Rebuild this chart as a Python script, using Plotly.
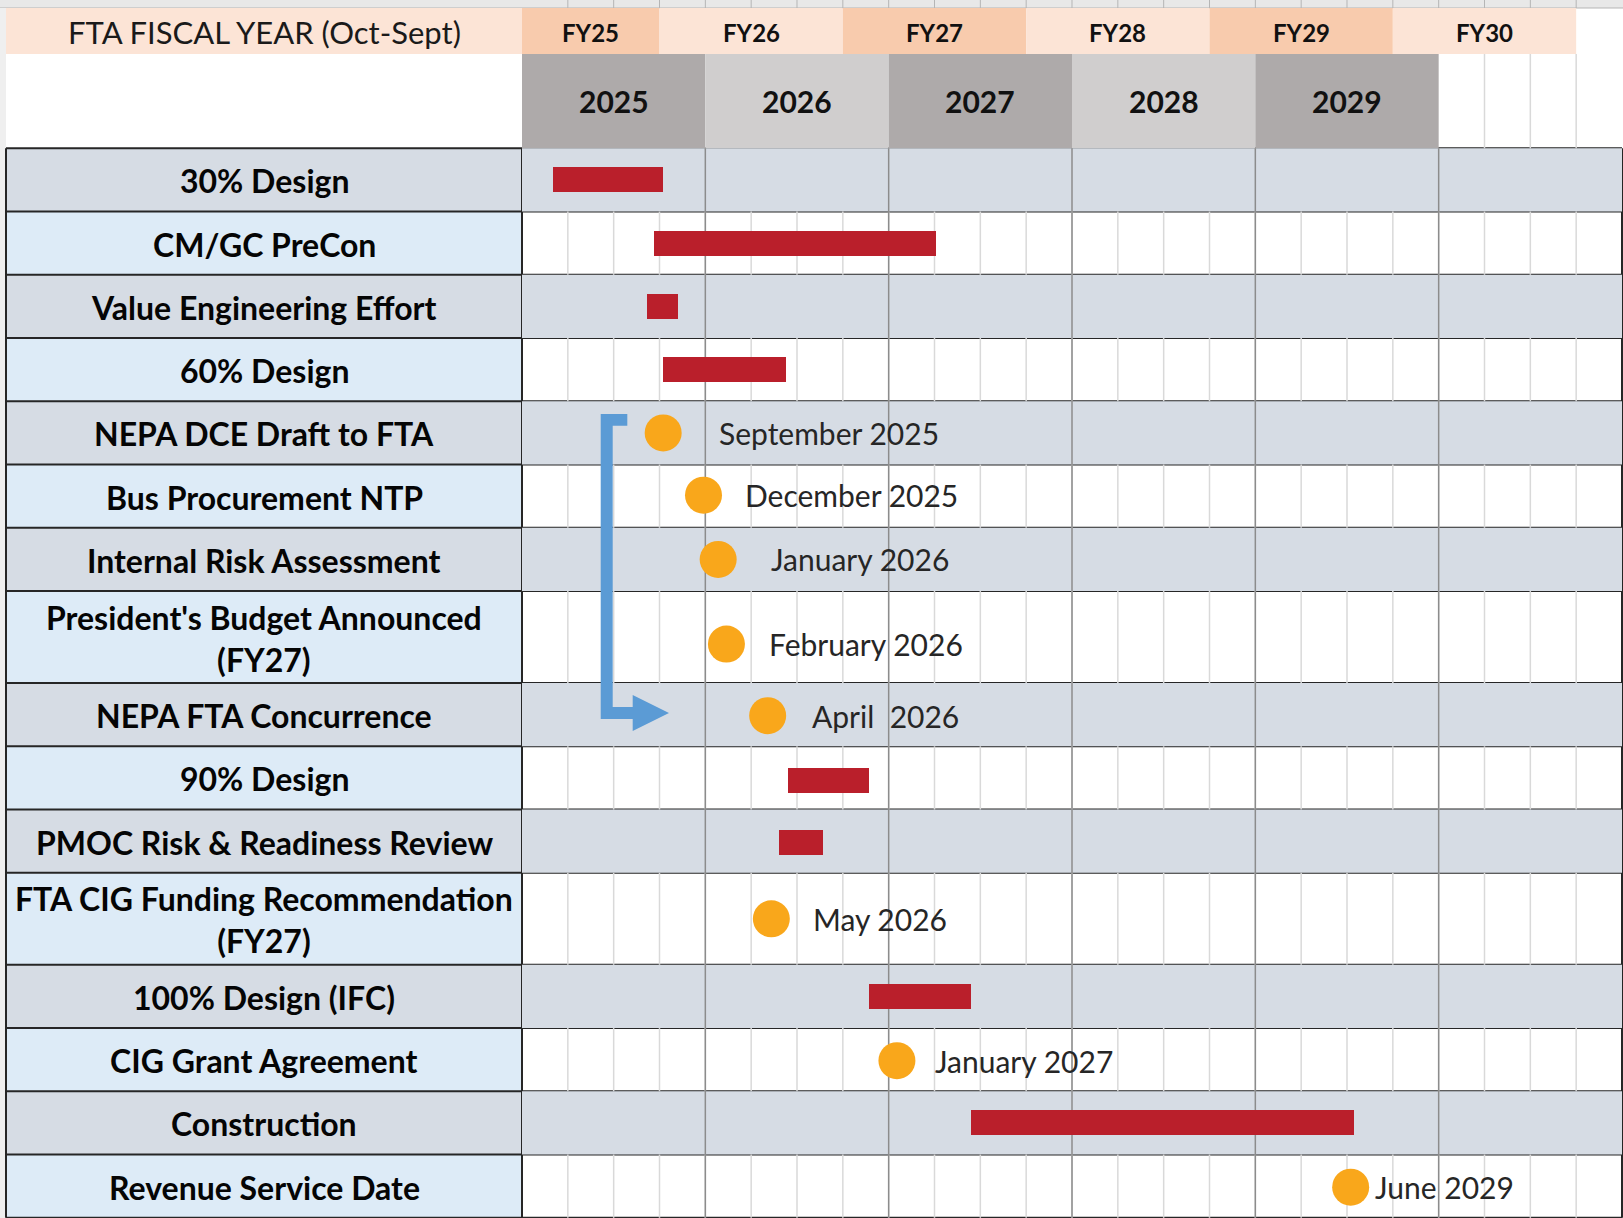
import plotly.graph_objects as go

# ---------------- data ----------------
row_labels = ["30% Design", "CM/GC PreCon", "Value Engineering Effort", "60% Design",
              "NEPA DCE Draft to FTA", "Bus Procurement NTP", "Internal Risk Assessment",
              "President's Budget Announced<br>(FY27)", "NEPA FTA Concurrence", "90% Design",
              "PMOC Risk & Readiness Review", "FTA CIG Funding Recommendation<br>(FY27)",
              "100% Design (IFC)", "CIG Grant Agreement", "Construction", "Revenue Service Date"]

bar_tasks = ["30% Design", "CM/GC PreCon", "Value Engineering Effort", "60% Design",
             "90% Design", "PMOC Risk & Readiness Review", "100% Design (IFC)", "Construction"]
bar_start = [2025.17, 2025.72, 2025.68, 2025.77, 2026.45, 2026.40, 2026.89, 2027.45]
bar_end = [2025.77, 2027.26, 2025.85, 2026.44, 2026.89, 2026.64, 2027.45, 2029.54]

ms_tasks = ["NEPA DCE Draft to FTA", "Bus Procurement NTP", "Internal Risk Assessment",
            "President's Budget Announced<br>(FY27)", "NEPA FTA Concurrence",
            "FTA CIG Funding Recommendation<br>(FY27)", "CIG Grant Agreement", "Revenue Service Date"]
ms_date = [2025.77, 2025.99, 2026.07, 2026.115, 2026.34, 2026.36, 2027.045, 2029.52]
ms_text = ["September 2025", "December 2025", "January 2026", "February 2026",
           "April\u00a0 2026", "May 2026", "January 2027", "June 2029"]

fy_labels = ["FY25", "FY26", "FY27", "FY28", "FY29", "FY30"]
fy_years = [2025, 2026, 2027, 2028, 2029, 2030]
cal_years = [2025, 2026, 2027, 2028, 2029]

# ---------------- layout constants ----------------
W, H = 1623, 1218
X_LEFT, X_SPLIT, X_RIGHT = 6, 522, 1622
X0, X1 = 2025, 2031
Y_STRIP, Y_FY, Y_HEAD = 8, 54, 148.3
ROW_H, TALL_H = 63.25, 92.0
ms_label_shift = [56, 41, 53, 43, 44, 42, 38, 24]
ms_row_offset = [0, -1, 0, 7, 1, 0, 1, 1]
bar_row_offset = [0, 0, 0, 0, 3, 1, 0, 0]

BAR_C = "#BA1F2B"
DOT_C = "#F9A71B"
ARROW_C = "#5B9BD5"
ODD_FILL = "#D6DCE4"
EVEN_LABEL = "#DDEBF7"
LINE_DARK = "#262626"
FONT = "Lato"

# row positions
bounds = [Y_HEAD]
for lab in row_labels:
    bounds.append(bounds[-1] + (TALL_H if "<br>" in lab else ROW_H))
centers = {lab: (bounds[i] + bounds[i + 1]) / 2 for i, lab in enumerate(row_labels)}

def px(xp):
    return xp / W

shapes = []
annotations = []

def rect(x0, x1, y0, y1, fill, xref="x"):
    shapes.append(dict(type="rect", xref=xref, yref="y", x0=x0, x1=x1, y0=y0, y1=y1,
                       fillcolor=fill, line=dict(width=0), layer="below"))

def line(x0, x1, y0, y1, color, width, xref="x"):
    shapes.append(dict(type="line", xref=xref, yref="y", x0=x0, x1=x1, y0=y0, y1=y1,
                       line=dict(color=color, width=width), layer="below"))

quarters = [X0 + q / 4 for q in range(1, 24)]

# top strip (spreadsheet row above) and left margin
rect(0, 1, 0, Y_STRIP, "#E8E8E8", xref="paper")
for q in quarters:
    line(q, q, 0, Y_STRIP, "#B5B5B5", 1)
line(0, 1, Y_STRIP, Y_STRIP, "#B5B5B5", 1, xref="paper")
rect(0, px(X_LEFT), Y_STRIP, H, "#EFEFEF", xref="paper")

# fiscal-year header row
rect(px(X_LEFT), px(X_SPLIT), Y_STRIP, Y_FY, "#FCE4D6", xref="paper")
for i, (lab, fy) in enumerate(zip(fy_labels, fy_years)):
    s = max(X0, fy - 1 + 0.75)
    e = fy + 0.75
    rect(s, e, Y_STRIP, Y_FY, "#F8CBAD" if i % 2 == 0 else "#FCE4D6")
    annotations.append(dict(x=(s + e) / 2, y=(Y_STRIP + Y_FY) / 2 + 1, xref="x", yref="y",
                            text="<b>%s</b>" % lab, showarrow=False, xanchor="center",
                            font=dict(family=FONT, size=24, color="#111111")))
annotations.append(dict(x=px((X_LEFT + X_SPLIT) / 2), y=(Y_STRIP + Y_FY) / 2 + 1,
                        xref="paper", yref="y", text="FTA FISCAL YEAR (Oct-Sept)",
                        showarrow=False, xanchor="center",
                        font=dict(family=FONT, size=31, color="#1A1A1A")))

# calendar-year header row
rect(px(X_LEFT), px(X_SPLIT), Y_FY, Y_HEAD, "white", xref="paper")
for q in quarters:
    if q > cal_years[-1] + 1:
        line(q, q, Y_FY, Y_HEAD, "#D9D9D9", 1.5)
for i, yr in enumerate(cal_years):
    rect(yr, yr + 1, Y_FY, Y_HEAD, "#AEAAAA" if i % 2 == 0 else "#D0CECE")
    annotations.append(dict(x=yr + 0.5, y=(Y_FY + Y_HEAD) / 2, xref="x", yref="y",
                            text="<b>%d</b>" % yr, showarrow=False, xanchor="center",
                            font=dict(family=FONT, size=30, color="#111111")))

# task rows
for i, lab in enumerate(row_labels):
    y0, y1 = bounds[i], bounds[i + 1]
    odd = i % 2 == 0
    rect(px(X_LEFT), px(X_SPLIT), y0, y1, ODD_FILL if odd else EVEN_LABEL, xref="paper")
    if odd:
        rect(X0, X1, y0, y1, ODD_FILL)
    else:
        for q in quarters:
            line(q, q, y0, y1, "#D9D9D9", 1.5)
    annotations.append(dict(x=px((X_LEFT + X_SPLIT) / 2), y=(y0 + y1) / 2 + 1,
                            xref="paper", yref="y", text="<b>%s</b>" % lab,
                            showarrow=False, xanchor="center", align="center",
                            font=dict(family=FONT, size=32, color="#050505")))

# year separators
for yr in range(X0 + 1, X1):
    line(yr, yr, Y_HEAD, bounds[-1], "#8C8C8C", 1.5)

# borders
for b in bounds:
    line(px(X_LEFT), px(X_RIGHT), b, b, LINE_DARK, 2, xref="paper")
for xb in (X_LEFT, X_SPLIT, X_RIGHT):
    line(px(xb), px(xb), Y_HEAD, bounds[-1], LINE_DARK, 2, xref="paper")

# blue bracket arrow (decoration, pixel geometry)
def xp(p):
    return X0 + (p - X_SPLIT) / (X_RIGHT - X_SPLIT) * (X1 - X0)

arrow_pts = [(600.7, 414), (627.3, 414), (627.3, 425.7), (612.7, 425.7), (612.7, 707),
             (632.7, 707), (632.7, 695), (669, 713), (632.7, 731), (632.7, 719), (600.7, 719)]
path = "M " + " L ".join("%.4f,%.2f" % (xp(a), b) for a, b in arrow_pts) + " Z"
shapes.append(dict(type="path", xref="x", yref="y", path=path, fillcolor=ARROW_C,
                   line=dict(width=0), layer="above"))

# ---------------- traces ----------------
ms_y = [centers[t] + o for t, o in zip(ms_tasks, ms_row_offset)]
bar_y = [centers[t] + o for t, o in zip(bar_tasks, bar_row_offset)]

fig = go.Figure()
fig.add_trace(go.Bar(
    y=bar_y,
    x=[e - s for s, e in zip(bar_start, bar_end)],
    base=bar_start, orientation="h", width=25,
    marker=dict(color=BAR_C, line=dict(width=0)),
    hoverinfo="skip", showlegend=False))
fig.add_trace(go.Scatter(
    x=ms_date, y=ms_y, mode="markers",
    marker=dict(size=37, color=DOT_C, line=dict(width=0)),
    hoverinfo="skip", showlegend=False))

for d, yv, txt, sh in zip(ms_date, ms_y, ms_text, ms_label_shift):
    annotations.append(dict(x=d, y=yv, xref="x", yref="y", text=txt,
                            xanchor="left", xshift=sh - 2, showarrow=False,
                            font=dict(family=FONT, size=30, color="#262626")))

fig.update_layout(
    width=W, height=H, autosize=False,
    margin=dict(l=0, r=0, t=0, b=0, pad=0),
    paper_bgcolor="white", plot_bgcolor="white",
    xaxis=dict(range=[X0, X1], domain=[px(X_SPLIT), px(X_RIGHT)], showgrid=False,
               zeroline=False, showticklabels=False, ticks="", fixedrange=True),
    yaxis=dict(range=[H, 0], domain=[0, 1], showgrid=False, zeroline=False,
               showticklabels=False, ticks="", fixedrange=True),
    shapes=shapes, annotations=annotations, bargap=0,
)

fig.write_html("out.html", config=dict(displayModeBar=False),
               post_script="document.body.style.margin='0';document.body.style.overflow='hidden';")
